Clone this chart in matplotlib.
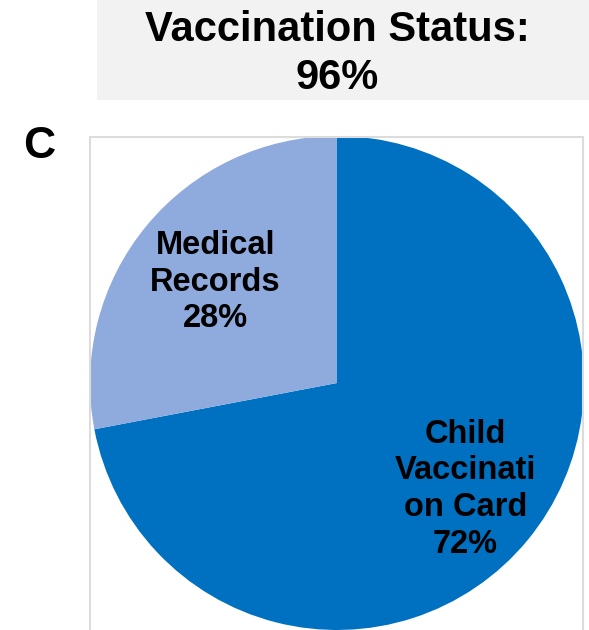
import matplotlib
matplotlib.use("Agg")
import matplotlib.pyplot as plt
from matplotlib.patches import Rectangle
import numpy as np

plt.rcParams['font.family'] = ['Liberation Sans', 'DejaVu Sans']

categories = ["Child\nVaccinati\non Card", "Medical\nRecords"]
values = [72, 28]
colors = ["#0070C0", "#8FAADC"]
title_lines = ["Vaccination Status:", "96%"]
panel_letter = "C"

W, H = 589, 630
fig = plt.figure(figsize=(W / 100, H / 100), dpi=100)

def fx(px):
    return px / W

def fy(py_from_top):
    return 1 - py_from_top / H

# title box
fig.patches.append(Rectangle((fx(97), fy(100)), fx(589) - fx(97), fy(0) - fy(100),
                             transform=fig.transFigure, facecolor="#F2F2F2",
                             edgecolor="none", zorder=0))
fig.text(fx(337), fy(41), title_lines[0], ha="center", va="baseline",
         fontsize=30, fontweight="bold", color="black")
fig.text(fx(337), fy(89), title_lines[1], ha="center", va="baseline",
         fontsize=30, fontweight="bold", color="black")

# panel letter
fig.text(fx(23), fy(158), panel_letter, ha="left", va="baseline",
         fontsize=32, fontweight="bold", color="black")

# plot area border
fig.patches.append(Rectangle((fx(89.5), fy(640)), fx(583) - fx(89.5), fy(137) - fy(640),
                             transform=fig.transFigure, facecolor="none",
                             edgecolor="#DCDCDC", linewidth=1.5, zorder=1))

# pie axes: center (337, 383), radius 247
cx, cy, r = 337, 383, 247
ax = fig.add_axes([fx(cx - r), fy(cy + r), fx(2 * r), (2 * r) / H])
wedges, _ = ax.pie(values, colors=colors, startangle=90, counterclock=False,
                   radius=1.0, wedgeprops=dict(linewidth=0))
ax.set_xlim(-1, 1)
ax.set_ylim(-1, 1)
ax.set_aspect("equal")
ax.axis("off")

label_dist = [0.675, 0.64]
for w, lab, v, d in zip(wedges, categories, values, label_dist):
    ang = np.deg2rad((w.theta1 + w.theta2) / 2)
    ax.text(d * np.cos(ang), d * np.sin(ang), f"{lab}\n{v}%", ha="center", va="center",
            fontsize=23.5, fontweight="bold", color="black", linespacing=1.24)

fig.savefig("out.png", dpi=100)
